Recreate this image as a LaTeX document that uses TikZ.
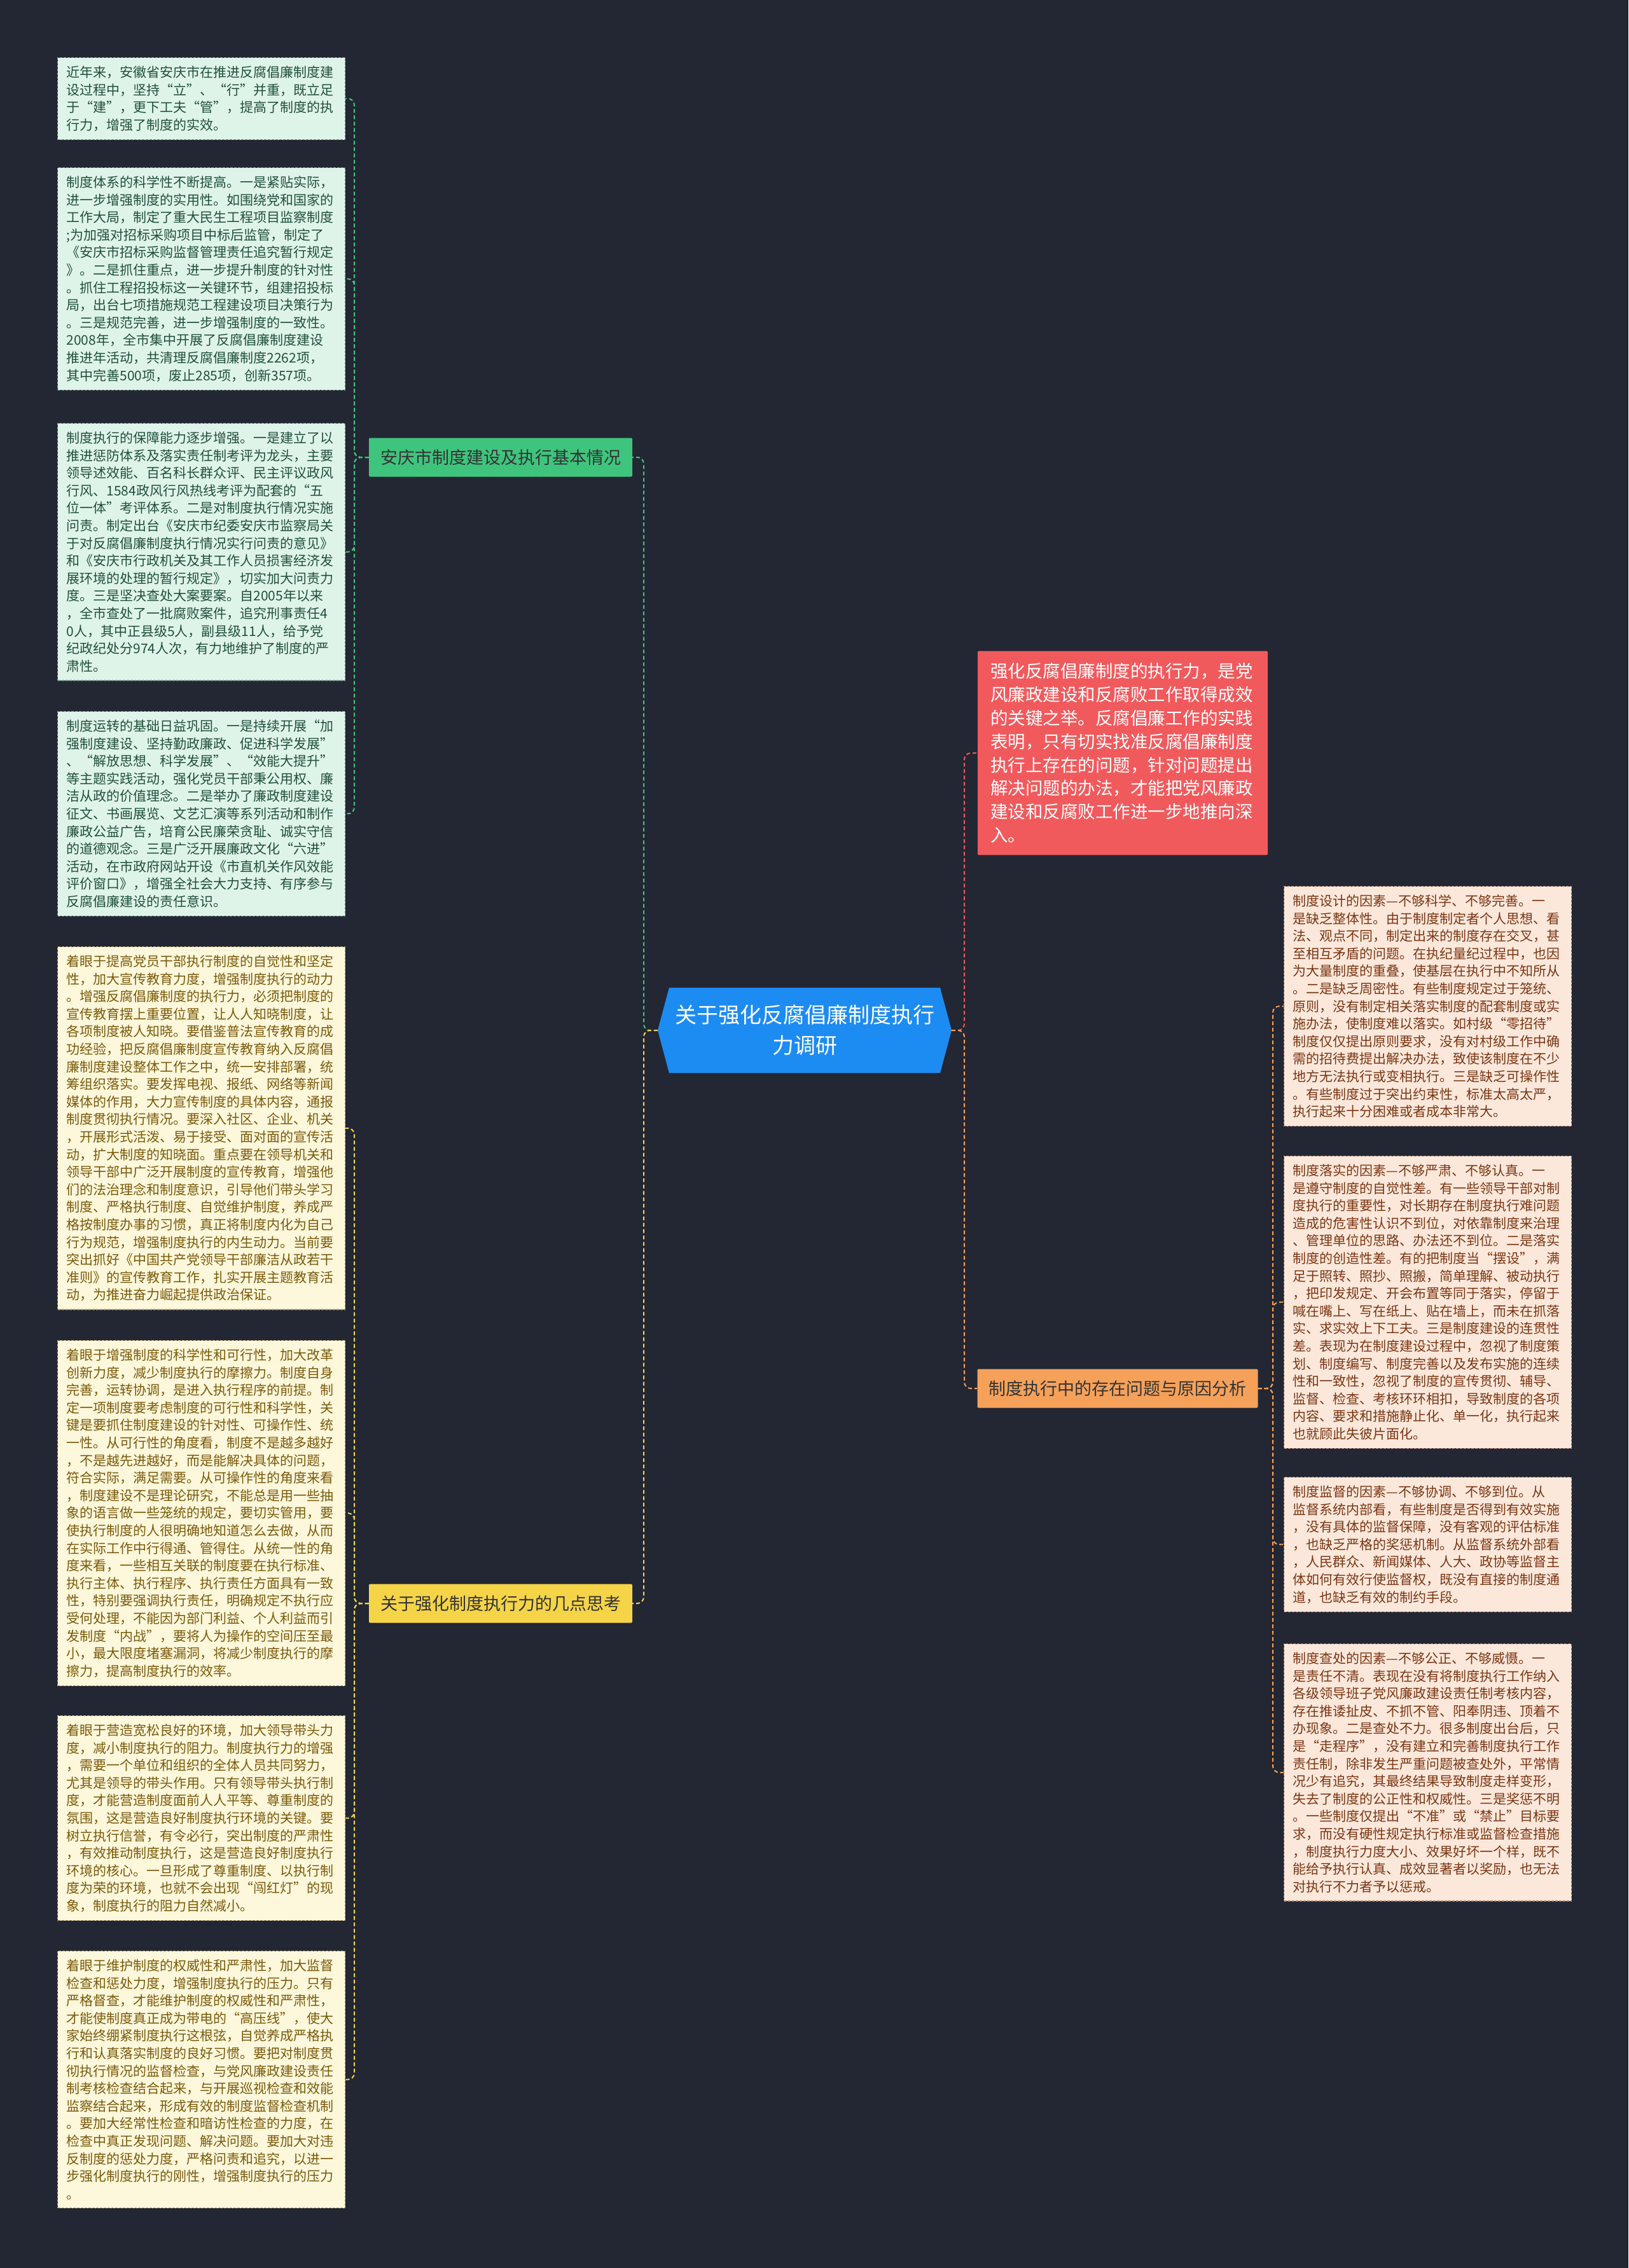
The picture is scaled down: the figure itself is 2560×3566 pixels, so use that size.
\documentclass[tikz,border=0pt]{standalone}
\usepackage{fontspec}
\setmainfont{Noto Sans CJK SC}
\usetikzlibrary{shapes.symbols}

\definecolor{bgdark}{HTML}{232733}
\definecolor{hubblue}{HTML}{1C8CF2}
\definecolor{brgreen}{HTML}{3FC47E}
\definecolor{bryellow}{HTML}{F5D547}
\definecolor{brorange}{HTML}{F5A15A}
\definecolor{brred}{HTML}{F15A5C}
\definecolor{mintfill}{HTML}{DFF4E9}
\definecolor{minttext}{HTML}{21503A}
\definecolor{creamfill}{HTML}{FDF7DB}
\definecolor{creamtext}{HTML}{7A5A0C}
\definecolor{peachfill}{HTML}{FCE8DB}
\definecolor{peachtext}{HTML}{7A3614}

\tikzset{
  leaf/.style={draw, dash pattern=on 4pt off 2pt, line width=1.3pt, anchor=north west,
    text width=424pt, inner xsep=14pt, inner ysep=13pt, align=left,
    font=\fontsize{21}{27.6}\selectfont},
  greenleaf/.style={leaf, fill=mintfill, draw=minttext!60, text=minttext},
  yellowleaf/.style={leaf, fill=creamfill, draw=creamtext!60, text=creamtext},
  orangeleaf/.style={leaf, fill=peachfill, draw=peachtext!60, text=peachtext},
  branch/.style={minimum height=61pt, inner xsep=16pt, rounded corners=2pt,
    font=\fontsize{27}{32}\selectfont},
  link/.style={line width=2pt, dash pattern=on 6pt off 4pt, rounded corners=10pt}
}

\begin{document}
\begin{tikzpicture}[x=1pt,y=-1pt]
% Background
\fill[bgdark] (0,0) rectangle (2560,3566);
\useasboundingbox (0,0) rectangle (2560,3566);

% Central topic
\node[signal, signal to=west and east, signal pointer angle=150, fill=hubblue,
  text=white, minimum width=462pt, minimum height=134pt, align=center,
  font=\fontsize{34}{48}\selectfont] (hub) at (1265,1620)
  {关于强化反腐倡廉制度执行\\力调研};

% Main branches
\node[branch, fill=brgreen, text=black!80, minimum width=414pt] (anqing) at (787,719)
  {安庆市制度建设及执行基本情况};
\node[branch, fill=bryellow, text=black!80, minimum width=414pt] (sikao) at (787,2521)
  {关于强化制度执行力的几点思考};
\node[branch, fill=brorange, text=black!80, minimum width=441pt] (wenti) at (1757,2183)
  {制度执行中的存在问题与原因分析};
\node[fill=brred, text=white, text width=416pt, inner xsep=20pt, inner ysep=19pt,
  align=left, rounded corners=2pt, font=\fontsize{27.5}{36.8}\selectfont] (zhixing) at (1765,1184)
  {强化反腐倡廉制度的执行力，是党\\
风廉政建设和反腐败工作取得成效\\
的关键之举。反腐倡廉工作的实践\\
表明，只有切实找准反腐倡廉制度\\
执行上存在的问题，针对问题提出\\
解决问题的办法，才能把党风廉政\\
建设和反腐败工作进一步地推向深\\
入。};

% Leaves of the first branch
\node[greenleaf] (ga) at (90,90)
  {近年来，安徽省安庆市在推进反腐倡廉制度建\\
设过程中，坚持“立”、“行”并重，既立足\\
于“建”，更下工夫“管”，提高了制度的执\\
行力，增强了制度的实效。};
\node[greenleaf] (gb) at (90,263)
  {制度体系的科学性不断提高。一是紧贴实际，\\
进一步增强制度的实用性。如围绕党和国家的\\
工作大局，制定了重大民生工程项目监察制度\\
;为加强对招标采购项目中标后监管，制定了\\
《安庆市招标采购监督管理责任追究暂行规定\\
》。二是抓住重点，进一步提升制度的针对性\\
。抓住工程招投标这一关键环节，组建招投标\\
局，出台七项措施规范工程建设项目决策行为\\
。三是规范完善，进一步增强制度的一致性。\\
2008年，全市集中开展了反腐倡廉制度建设\\
推进年活动，共清理反腐倡廉制度2262项，\\
其中完善500项，废止285项，创新357项。};
\node[greenleaf] (gc) at (90,665)
  {制度执行的保障能力逐步增强。一是建立了以\\
推进惩防体系及落实责任制考评为龙头，主要\\
领导述效能、百名科长群众评、民主评议政风\\
行风、1584政风行风热线考评为配套的“五\\
位一体”考评体系。二是对制度执行情况实施\\
问责。制定出台《安庆市纪委安庆市监察局关\\
于对反腐倡廉制度执行情况实行问责的意见》\\
和《安庆市行政机关及其工作人员损害经济发\\
展环境的处理的暂行规定》，切实加大问责力\\
度。三是坚决查处大案要案。自2005年以来\\
，全市查处了一批腐败案件，追究刑事责任4\\
0人，其中正县级5人，副县级11人，给予党\\
纪政纪处分974人次，有力地维护了制度的严\\
肃性。};
\node[greenleaf] (gd) at (90,1118)
  {制度运转的基础日益巩固。一是持续开展“加\\
强制度建设、坚持勤政廉政、促进科学发展”\\
、“解放思想、科学发展”、“效能大提升”\\
等主题实践活动，强化党员干部秉公用权、廉\\
洁从政的价值理念。二是举办了廉政制度建设\\
征文、书画展览、文艺汇演等系列活动和制作\\
廉政公益广告，培育公民廉荣贪耻、诚实守信\\
的道德观念。三是广泛开展廉政文化“六进”\\
活动，在市政府网站开设《市直机关作风效能\\
评价窗口》，增强全社会大力支持、有序参与\\
反腐倡廉建设的责任意识。};

% Leaves of the second branch
\node[yellowleaf] (ya) at (90,1488)
  {着眼于提高党员干部执行制度的自觉性和坚定\\
性，加大宣传教育力度，增强制度执行的动力\\
。增强反腐倡廉制度的执行力，必须把制度的\\
宣传教育摆上重要位置，让人人知晓制度，让\\
各项制度被人知晓。要借鉴普法宣传教育的成\\
功经验，把反腐倡廉制度宣传教育纳入反腐倡\\
廉制度建设整体工作之中，统一安排部署，统\\
筹组织落实。要发挥电视、报纸、网络等新闻\\
媒体的作用，大力宣传制度的具体内容，通报\\
制度贯彻执行情况。要深入社区、企业、机关\\
，开展形式活泼、易于接受、面对面的宣传活\\
动，扩大制度的知晓面。重点要在领导机关和\\
领导干部中广泛开展制度的宣传教育，增强他\\
们的法治理念和制度意识，引导他们带头学习\\
制度、严格执行制度、自觉维护制度，养成严\\
格按制度办事的习惯，真正将制度内化为自己\\
行为规范，增强制度执行的内生动力。当前要\\
突出抓好《中国共产党领导干部廉洁从政若干\\
准则》的宣传教育工作，扎实开展主题教育活\\
动，为推进奋力崛起提供政治保证。};
\node[yellowleaf] (yb) at (90,2107)
  {着眼于增强制度的科学性和可行性，加大改革\\
创新力度，减少制度执行的摩擦力。制度自身\\
完善，运转协调，是进入执行程序的前提。制\\
定一项制度要考虑制度的可行性和科学性，关\\
键是要抓住制度建设的针对性、可操作性、统\\
一性。从可行性的角度看，制度不是越多越好\\
，不是越先进越好，而是能解决具体的问题，\\
符合实际，满足需要。从可操作性的角度来看\\
，制度建设不是理论研究，不能总是用一些抽\\
象的语言做一些笼统的规定，要切实管用，要\\
使执行制度的人很明确地知道怎么去做，从而\\
在实际工作中行得通、管得住。从统一性的角\\
度来看，一些相互关联的制度要在执行标准、\\
执行主体、执行程序、执行责任方面具有一致\\
性，特别要强调执行责任，明确规定不执行应\\
受何处理，不能因为部门利益、个人利益而引\\
发制度“内战”，要将人为操作的空间压至最\\
小，最大限度堵塞漏洞，将减少制度执行的摩\\
擦力，提高制度执行的效率。};
\node[yellowleaf] (yc) at (90,2697)
  {着眼于营造宽松良好的环境，加大领导带头力\\
度，减小制度执行的阻力。制度执行力的增强\\
，需要一个单位和组织的全体人员共同努力，\\
尤其是领导的带头作用。只有领导带头执行制\\
度，才能营造制度面前人人平等、尊重制度的\\
氛围，这是营造良好制度执行环境的关键。要\\
树立执行信誉，有令必行，突出制度的严肃性\\
，有效推动制度执行，这是营造良好制度执行\\
环境的核心。一旦形成了尊重制度、以执行制\\
度为荣的环境，也就不会出现“闯红灯”的现\\
象，制度执行的阻力自然减小。};
\node[yellowleaf] (yd) at (90,3067)
  {着眼于维护制度的权威性和严肃性，加大监督\\
检查和惩处力度，增强制度执行的压力。只有\\
严格督查，才能维护制度的权威性和严肃性，\\
才能使制度真正成为带电的“高压线”，使大\\
家始终绷紧制度执行这根弦，自觉养成严格执\\
行和认真落实制度的良好习惯。要把对制度贯\\
彻执行情况的监督检查，与党风廉政建设责任\\
制考核检查结合起来，与开展巡视检查和效能\\
监察结合起来，形成有效的制度监督检查机制\\
。要加大经常性检查和暗访性检查的力度，在\\
检查中真正发现问题、解决问题。要加大对违\\
反制度的惩处力度，严格问责和追究，以进一\\
步强化制度执行的刚性，增强制度执行的压力\\
。};

% Leaves of the problem branch
\node[orangeleaf] (oa) at (2018,1393)
  {制度设计的因素—不够科学、不够完善。一\\
是缺乏整体性。由于制度制定者个人思想、看\\
法、观点不同，制定出来的制度存在交叉，甚\\
至相互矛盾的问题。在执纪量纪过程中，也因\\
为大量制度的重叠，使基层在执行中不知所从\\
。二是缺乏周密性。有些制度规定过于笼统、\\
原则，没有制定相关落实制度的配套制度或实\\
施办法，使制度难以落实。如村级“零招待”\\
制度仅仅提出原则要求，没有对村级工作中确\\
需的招待费提出解决办法，致使该制度在不少\\
地方无法执行或变相执行。三是缺乏可操作性\\
。有些制度过于突出约束性，标准太高太严，\\
执行起来十分困难或者成本非常大。};
\node[orangeleaf] (ob) at (2018,1817)
  {制度落实的因素—不够严肃、不够认真。一\\
是遵守制度的自觉性差。有一些领导干部对制\\
度执行的重要性，对长期存在制度执行难问题\\
造成的危害性认识不到位，对依靠制度来治理\\
、管理单位的思路、办法还不到位。二是落实\\
制度的创造性差。有的把制度当“摆设”，满\\
足于照转、照抄、照搬，简单理解、被动执行\\
，把印发规定、开会布置等同于落实，停留于\\
喊在嘴上、写在纸上、贴在墙上，而未在抓落\\
实、求实效上下工夫。三是制度建设的连贯性\\
差。表现为在制度建设过程中，忽视了制度策\\
划、制度编写、制度完善以及发布实施的连续\\
性和一致性，忽视了制度的宣传贯彻、辅导、\\
监督、检查、考核环环相扣，导致制度的各项\\
内容、要求和措施静止化、单一化，执行起来\\
也就顾此失彼片面化。};
\node[orangeleaf] (oc) at (2018,2322)
  {制度监督的因素—不够协调、不够到位。从\\
监督系统内部看，有些制度是否得到有效实施\\
，没有具体的监督保障，没有客观的评估标准\\
，也缺乏严格的奖惩机制。从监督系统外部看\\
，人民群众、新闻媒体、人大、政协等监督主\\
体如何有效行使监督权，既没有直接的制度通\\
道，也缺乏有效的制约手段。};
\node[orangeleaf] (od) at (2018,2584)
  {制度查处的因素—不够公正、不够威慑。一\\
是责任不清。表现在没有将制度执行工作纳入\\
各级领导班子党风廉政建设责任制考核内容，\\
存在推诿扯皮、不抓不管、阳奉阴违、顶着不\\
办现象。二是查处不力。很多制度出台后，只\\
是“走程序”，没有建立和完善制度执行工作\\
责任制，除非发生严重问题被查处外，平常情\\
况少有追究，其最终结果导致制度走样变形，\\
失去了制度的公正性和权威性。三是奖惩不明\\
。一些制度仅提出“不准”或“禁止”目标要\\
求，而没有硬性规定执行标准或监督检查措施\\
，制度执行力度大小、效果好坏一个样，既不\\
能给予执行认真、成效显著者以奖励，也无法\\
对执行不力者予以惩戒。};

% Trunk points
\coordinate (ltrunk) at (1012,1620);
\coordinate (rtrunk) at (1516,1620);
\coordinate (gtrunk) at (557,719);
\coordinate (ytrunk) at (557,2521);
\coordinate (otrunk) at (2001,2183);

% Connectors from the hub
\draw[link, brgreen] (hub.west) -- (ltrunk) |- (anqing.east);
\draw[link, bryellow] (hub.west) -- (ltrunk) |- (sikao.east);
\draw[link, brred] (hub.east) -- (rtrunk) |- (zhixing.west);
\draw[link, brorange] (hub.east) -- (rtrunk) |- (wenti.west);

% Connectors to the leaves
\foreach \n in {ga,gb,gc,gd}
  \draw[link, brgreen] (anqing.west) -- (gtrunk) |- (\n.east);
\foreach \n in {ya,yb,yc,yd}
  \draw[link, bryellow] (sikao.west) -- (ytrunk) |- (\n.east);
\foreach \n in {oa,ob,oc,od}
  \draw[link, brorange] (wenti.east) -- (otrunk) |- (\n.west);
\end{tikzpicture}
\end{document}
